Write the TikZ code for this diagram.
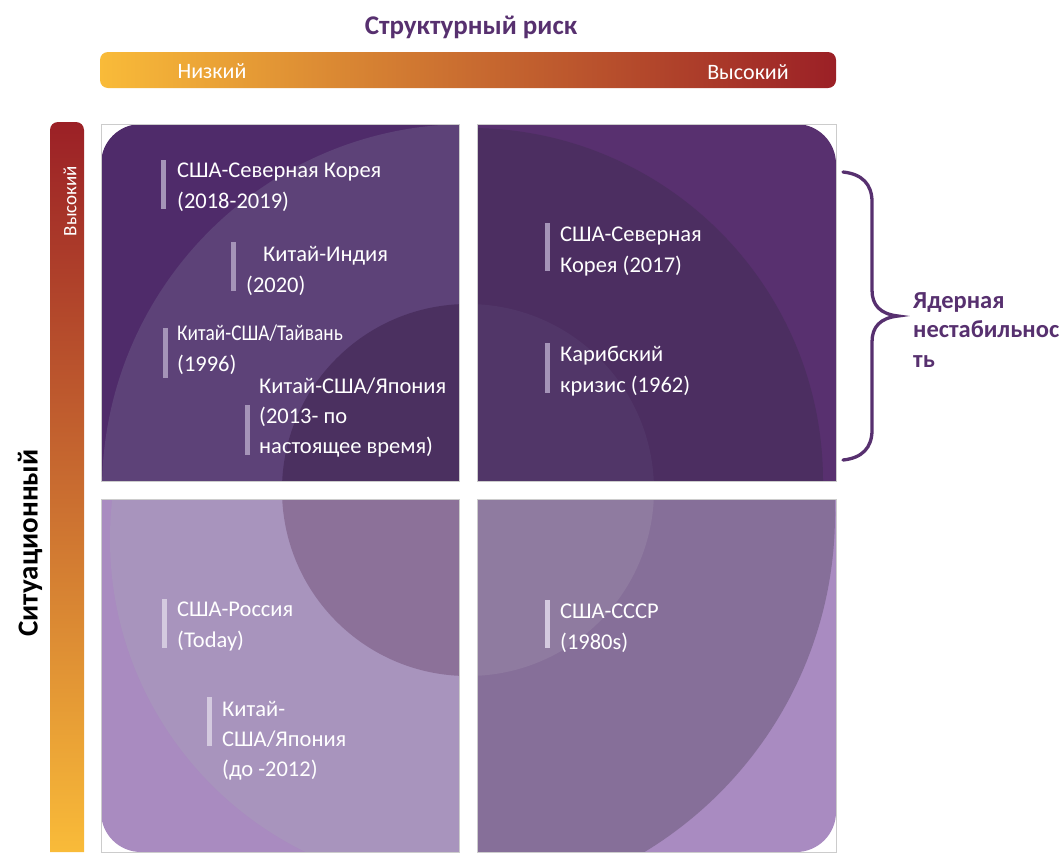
\documentclass[tikz,border=0pt]{standalone}
\usepackage{fontspec}
\usepackage{graphicx}
\setmainfont{Carlito}
\definecolor{ttlc}{HTML}{57306F}
\definecolor{gyel}{HTML}{F9BB39}
\definecolor{gmid}{HTML}{C96C30}
\definecolor{gred}{HTML}{9B2026}
\definecolor{tlbase}{HTML}{4F2B6A}
\definecolor{tlband}{HTML}{5D4278}
\definecolor{tlin}{HTML}{4B3060}
\definecolor{trbase}{HTML}{58306F}
\definecolor{trband}{HTML}{4C2E61}
\definecolor{trin}{HTML}{513668}
\definecolor{blbase}{HTML}{A98BC0}
\definecolor{blband}{HTML}{A894BD}
\definecolor{blin}{HTML}{8C7199}
\definecolor{brbase}{HTML}{A98BC1}
\definecolor{brband}{HTML}{866F99}
\definecolor{brin}{HTML}{8F7BA0}
\definecolor{barA}{HTML}{A594B8}
\definecolor{barB}{HTML}{D4CADF}
\begin{document}
\begin{tikzpicture}[x=1pt,y=-1pt,
  lbl/.style={text=white,font=\fontsize{22.5}{31}\selectfont,align=left,anchor=north west,inner sep=0pt},
  tickbar/.style={fill=barA},
  tickbarlight/.style={fill=barB},
  frame/.style={draw=gray!40,line width=0.7pt},
  headtext/.style={text=ttlc,font=\bfseries\fontsize{27}{30}\selectfont,inner sep=0pt},
  scaletext/.style={text=white,font=\fontsize{22}{24}\selectfont,inner sep=0pt}
]
\useasboundingbox (0,0) rectangle (1064,852);
\fill[white] (0,0) rectangle (1064,852);

% title
\node[headtext] (title) at (471,27) {Структурный риск};

% horizontal gradient bar
\shade[left color=gyel, right color=gred, middle color=gmid, rounded corners=8pt] (100,52) rectangle (836,88);
\node[scaletext] (low) at (212,71) {Низкий};
\node[scaletext] (high) at (748,72) {Высокий};

% vertical gradient bar
\shade[top color=gred, bottom color=gyel, middle color=gmid] (50,852) -- (50,130) arc[start angle=180,end angle=270,radius=8] -- (76,122) arc[start angle=270,end angle=360,radius=8] -- (84,852) -- cycle;
\node[scaletext,rotate=90,font=\fontsize{19}{22}\selectfont] (vhigh) at (70,201) {Высокий};
\node[rotate=90,font=\bfseries\fontsize{29}{32}\selectfont,inner sep=0pt] (situ) at (30,543) {Ситуационный};

% TL quadrant
\begin{scope}
\clip (101,481) -- (101,164) arc[start angle=180,end angle=270,radius=40] -- (459,124) -- (459,481) -- cycle;
\fill[tlbase] (101,124) rectangle (459,481);
\fill[tlband] (468,490) circle[radius=366];
\fill[tlin] (468,490) circle[radius=186];
\end{scope}
% TR quadrant
\begin{scope}
\clip (477,481) -- (477,124) -- (796,124) arc[start angle=270,end angle=360,radius=40] -- (836,481) -- cycle;
\fill[trbase] (477,124) rectangle (836,481);
\fill[trband] (470,481) circle[radius=353];
\fill[trin] (468,490) circle[radius=186];
\end{scope}
% BL quadrant
\begin{scope}
\clip (101,499) -- (459,499) -- (459,852) -- (141,852) arc[start angle=90,end angle=180,radius=40] -- cycle;
\fill[blbase] (101,499) rectangle (459,852);
\fill[blband] (458,539) circle[radius=348];
\fill[blin] (468,490) circle[radius=186];
\end{scope}
% BR quadrant
\begin{scope}
\clip (477,499) -- (836,499) -- (836,812) arc[start angle=0,end angle=90,radius=40] -- (477,852) -- cycle;
\fill[brbase] (477,499) rectangle (836,852);
\fill[brband] (440,514) circle[radius=395];
\fill[brin] (468,490) circle[radius=186];
\end{scope}
\draw[frame] (101,124) rectangle (459,481);
\draw[frame] (477,124) rectangle (836,481);
\draw[frame] (101,499) rectangle (459,852);
\draw[frame] (477,499) rectangle (836,852);

% markers
\fill[tickbar] (161,160) rectangle (166,209);
\fill[tickbar] (231,242) rectangle (236,291);
\fill[tickbar] (163,328) rectangle (168,378);
\fill[tickbar] (245,405) rectangle (250,455);
\fill[tickbar] (545,223) rectangle (550,271);
\fill[tickbar] (545,343) rectangle (550,393);
\fill[tickbarlight] (162,599) rectangle (167,648);
\fill[tickbarlight] (207,697) rectangle (212,746);
\fill[tickbarlight] (545,600) rectangle (550,648);

% labels (first baseline = y + 22)
\node[lbl] (nk18) at (177,155) {\rule{0pt}{22pt}США-Северная Корея\\(2018-2019)};
\node[lbl] (ci20) at (246,239) {\rule{0pt}{22pt}\hspace*{17pt}Китай-Индия\\(2020)};
\node[lbl] (tw96) at (177,318) {\rule{0pt}{22pt}\scalebox{0.86}[1]{Китай-США/Тайвань}\\(1996)};
\node[lbl,font=\fontsize{22.5}{30}\selectfont] (jp13) at (259,371) {\rule{0pt}{22pt}Китай-США/Япония\\(2013- по\\настоящее время)};
\node[lbl] (nk17) at (560,219) {\rule{0pt}{22pt}США-Северная\\Корея (2017)};
\node[lbl] (cub) at (560,339) {\rule{0pt}{22pt}Карибский\\кризис (1962)};
\node[lbl] (rus) at (177,594) {\rule{0pt}{22pt}США-Россия\\(Today)};
\node[lbl,font=\fontsize{22.5}{30}\selectfont] (jp12) at (222,694) {\rule{0pt}{22pt}Китай-\\США/Япония\\(до -2012)};
\node[lbl] (ussr) at (560,596) {\rule{0pt}{22pt}США-СССР\\(1980s)};

% brace
\coordinate (bt) at (843,172);
\coordinate (bb) at (843,460);
\coordinate (btip) at (898,316);
\draw[ttlc,line width=3.3pt,line cap=round] (bt) .. controls (862,174) and (872,184) .. (872,202) -- (872,290) .. controls (872,305) and (880,314) .. (btip) .. controls (880,318) and (872,327) .. (872,342) -- (872,430) .. controls (872,448) and (862,458) .. (bb);
\node[text=ttlc,font=\bfseries\fontsize{24.5}{29.5}\selectfont,align=left,anchor=north west,inner sep=0pt] (nuc) at (913,284) {\rule{0pt}{24pt}Ядерная\\нестабильнос\\ть};
\end{tikzpicture}
\end{document}
